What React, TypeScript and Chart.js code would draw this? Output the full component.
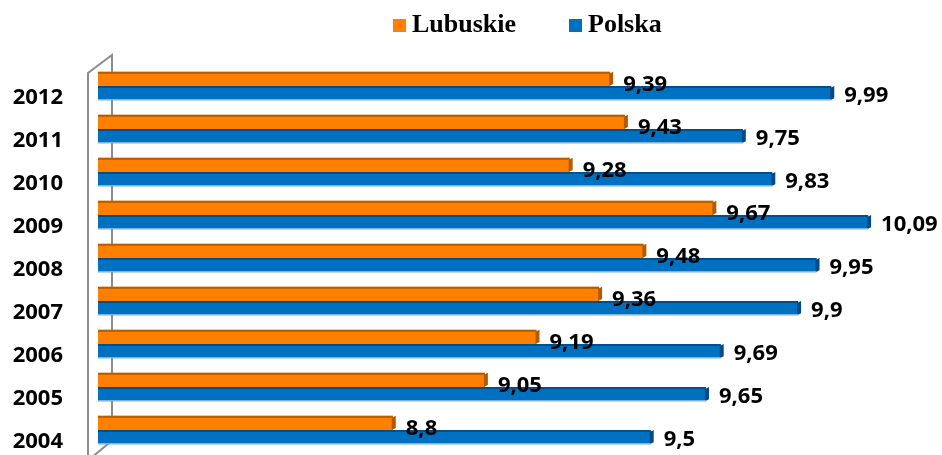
import React, { useEffect, useRef } from "react";
import { Chart, registerables } from "chart.js";

Chart.register(...registerables);

const years = ["2012", "2011", "2010", "2009", "2008", "2007", "2006", "2005", "2004"];
const lubuskie = [9.39, 9.43, 9.28, 9.67, 9.48, 9.36, 9.19, 9.05, 8.8];
const polska = [9.99, 9.75, 9.83, 10.09, 9.95, 9.9, 9.69, 9.65, 9.5];
const seriesNames = ["Lubuskie", "Polska"];
const fills = ["#FF8000", "#0070C0"];
const tops = ["#B85C00", "#004E8A"];
const caps = ["#B35A00", "#004A85"];
const labelDy = [6, 3];

const fmt = (v: number) => String(v).replace(".", ",");

const wallPlugin = {
  id: "wall",
  beforeDatasetsDraw(chart: any) {
    const { ctx, chartArea } = chart;
    const l = chartArea.left;
    const t = chartArea.top;
    const b = chartArea.bottom;
    ctx.save();
    ctx.strokeStyle = "#8C8C8C";
    ctx.lineWidth = 2;
    ctx.beginPath();
    ctx.moveTo(l - 10, 460);
    ctx.lineTo(l - 10, t + 8.5);
    ctx.lineTo(l + 14, t - 9.5);
    ctx.lineTo(l + 14, b - 11);
    ctx.lineTo(l - 4, b + 4);
    ctx.stroke();
    ctx.restore();
  },
};

const barDecorPlugin = {
  id: "barDecor",
  afterDatasetsDraw(chart: any) {
    const { ctx, chartArea } = chart;
    ctx.save();
    chart.data.datasets.forEach((ds: any, di: number) => {
      const meta = chart.getDatasetMeta(di);
      meta.data.forEach((bar: any) => {
        const x = bar.x;
        const base = Math.max(bar.base, chartArea.left);
        const h = bar.height;
        const top = bar.y - h / 2;
        const bottom = bar.y + h / 2;
        ctx.fillStyle = tops[di];
        ctx.fillRect(base, top, x - base, 2);
        ctx.fillStyle = caps[di];
        ctx.beginPath();
        ctx.moveTo(x - 1, top + 2);
        ctx.lineTo(x + 3, top);
        ctx.lineTo(x + 3, bottom - 2);
        ctx.lineTo(x - 1, bottom);
        ctx.closePath();
        ctx.fill();
        if (di === 1) {
          ctx.fillStyle = "#9CC3E6";
          ctx.fillRect(base, bottom - 1, x - base, 1);
        }
      });
    });
    ctx.fillStyle = "#000000";
    ctx.font = "bold 22px 'Open Sans'";
    ctx.textAlign = "left";
    ctx.textBaseline = "middle";
    chart.data.datasets.forEach((ds: any, di: number) => {
      const meta = chart.getDatasetMeta(di);
      meta.data.forEach((bar: any, i: number) => {
        ctx.fillText(fmt(ds.data[i]), bar.x + 13, bar.y + labelDy[di]);
      });
    });
    ctx.restore();
  },
};

const legendPlugin = {
  id: "customLegend",
  afterDraw(chart: any) {
    const { ctx } = chart;
    ctx.save();
    ctx.font = "bold 26px 'Liberation Serif'";
    ctx.textBaseline = "alphabetic";
    ctx.textAlign = "left";
    const items = [
      { x: 393, name: seriesNames[0], color: fills[0] },
      { x: 569, name: seriesNames[1], color: fills[1] },
    ];
    items.forEach((it) => {
      ctx.fillStyle = it.color;
      ctx.fillRect(it.x, 19, 13, 13);
      ctx.fillStyle = "#000000";
      ctx.fillText(it.name, it.x + 19, 32);
    });
    ctx.restore();
  },
};

export default function App() {
  const ref = useRef<HTMLCanvasElement>(null);
  useEffect(() => {
    if (!ref.current) return;
    const chart = new Chart(ref.current, {
      type: "bar",
      data: {
        labels: years,
        datasets: [
          { label: seriesNames[0], data: lubuskie, backgroundColor: fills[0], categoryPercentage: 0.66, barPercentage: 1 },
          { label: seriesNames[1], data: polska, backgroundColor: fills[1], categoryPercentage: 0.66, barPercentage: 1 },
        ],
      },
      options: {
        indexAxis: "y",
        animation: false,
        responsive: true,
        maintainAspectRatio: false,
        layout: { padding: { top: 64.5, bottom: 3.5, left: 0, right: 12 } },
        plugins: { legend: { display: false }, tooltip: { enabled: false } },
        scales: {
          x: { display: false, min: 8, max: 10.258 },
          y: {
            grid: { display: false, drawTicks: false },
            border: { display: false },
            afterFit: (scale: any) => {
              scale.width = 98;
              scale.paddingTop = 0;
              scale.paddingBottom = 0;
            },
            ticks: {
              padding: 35,
              labelOffset: 12,
              color: "#000000",
              font: { family: "'Open Sans'", size: 22, weight: "bold" },
            },
          },
        },
      },
      plugins: [wallPlugin, barDecorPlugin, legendPlugin],
    });
    return () => chart.destroy();
  }, []);
  return (
    <div style={{ position: "absolute", left: 0, top: 0, width: 942, height: 455, background: "#fff" }}>
      <canvas ref={ref} />
    </div>
  );
}
